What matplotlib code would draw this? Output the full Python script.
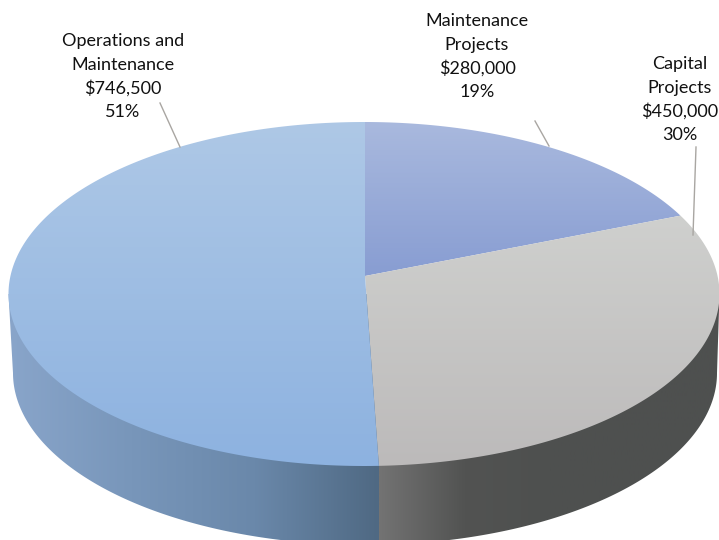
"""3D-look budget pie, drawn in pixel coordinates of the 719x540 figure."""

import numpy as np
import matplotlib

matplotlib.use("Agg")
import matplotlib.pyplot as plt
from matplotlib.colors import LinearSegmentedColormap
from matplotlib.patches import PathPatch
from matplotlib.path import Path

plt.rcParams["font.family"] = ["Lato", "DejaVu Sans"]

categories = ["Maintenance\nProjects", "Capital\nProjects", "Operations and\nMaintenance"]
values = [280000, 450000, 746500]
percents = ["19%", "30%", "51%"]

W, H = 719, 540
# top face ellipse, and the off-centre apex (the chart has perspective)
CX, CY, A, B = 364, 294, 355.5, 172
APEX = (365, 276)
K = 0.48
# bottom rim of the side wall
BOT_CX, BOT_CY, BOT_A, BOT_B = 365, 373, 352, 172

top_colors = [("#A9B9DE", "#889DD2"), ("#CFD0CE", "#BCBABA"), ("#AEC8E6", "#8DB2E0")]
side_blue = ["#89A5CA", "#7896BA", "#6A88AA", "#4F6983"]
side_gray = ["#737373", "#525352", "#4E504F", "#4E504F", "#4E504F"]

label_pos = [(477, 21), (680, 64), (123, 41)]
leaders = [((535, 121), (549, 146)), ((696, 147), (693, 235)), ((160, 103), (180, 147))]
LINE_H = 23.6


def rim_point(theta):
    """Where the ray from the apex at pie angle theta hits the top ellipse."""
    dx, dy = np.sin(theta), -np.cos(theta) * K
    px, py = (APEX[0] - CX) / A, (APEX[1] - CY) / B
    qx, qy = dx / A, dy / B
    a = qx**2 + qy**2
    b = 2 * (px * qx + py * qy)
    c = px**2 + py**2 - 1
    t = (-b + np.sqrt(b**2 - 4 * a * c)) / (2 * a)
    return APEX[0] + t * dx, APEX[1] + t * dy


def gradient(ax, colors, clip, vertical, extent):
    cmap = LinearSegmentedColormap.from_list("g", colors)
    ramp = np.linspace(0, 1, 256)
    ramp = ramp[:, None] if vertical else ramp[None, :]
    patch = PathPatch(clip, fc="none", ec="none", transform=ax.transData)
    ax.add_patch(patch)
    im = ax.imshow(ramp, cmap=cmap, extent=extent, aspect="auto", origin="upper", zorder=2)
    im.set_clip_path(patch)


fig = plt.figure(figsize=(W / 100, H / 100), dpi=100)
ax = fig.add_axes([0, 0, 1, 1])

edges = np.cumsum([0] + values) / sum(values) * 2 * np.pi
split_x = rim_point(edges[2])[0]

# side wall first, the top face covers its upper part
t = np.linspace(0, np.pi, 300)
wall = np.column_stack(
    [
        np.r_[CX + A, BOT_CX + BOT_A * np.cos(t), CX - A],
        np.r_[CY, BOT_CY + BOT_B * np.sin(t), CY],
    ]
)
wall_path = Path(np.vstack([wall, wall[0]]), closed=True)
gradient(ax, side_blue, wall_path, False, (8, split_x, H, 0))
gradient(ax, side_gray, wall_path, False, (split_x, W, H, 0))

for i in range(len(values)):
    th = np.linspace(edges[i], edges[i + 1], 300)
    rim = np.array([rim_point(x) for x in th])
    poly = np.vstack([APEX, rim, APEX])
    path = Path(poly, closed=True)
    top, bot = poly[:, 1].min(), poly[:, 1].max()
    gradient(ax, top_colors[i], path, True, (0, W, bot, top))

for i, name in enumerate(categories):
    text = f"{name}\n${values[i]:,}\n{percents[i]}"
    x, y = label_pos[i]
    for j, line in enumerate(text.split("\n")):
        ax.text(x, y + j * LINE_H, line, ha="center", va="center", fontsize=13,
                color="#111111", zorder=5)
    (x0, y0), (x1, y1) = leaders[i]
    ax.plot([x0, x1], [y0, y1], color="#A9A6A2", lw=1, zorder=4)

ax.set_xlim(0, W)
ax.set_ylim(H, 0)
ax.axis("off")
fig.savefig("out.png", dpi=100)
